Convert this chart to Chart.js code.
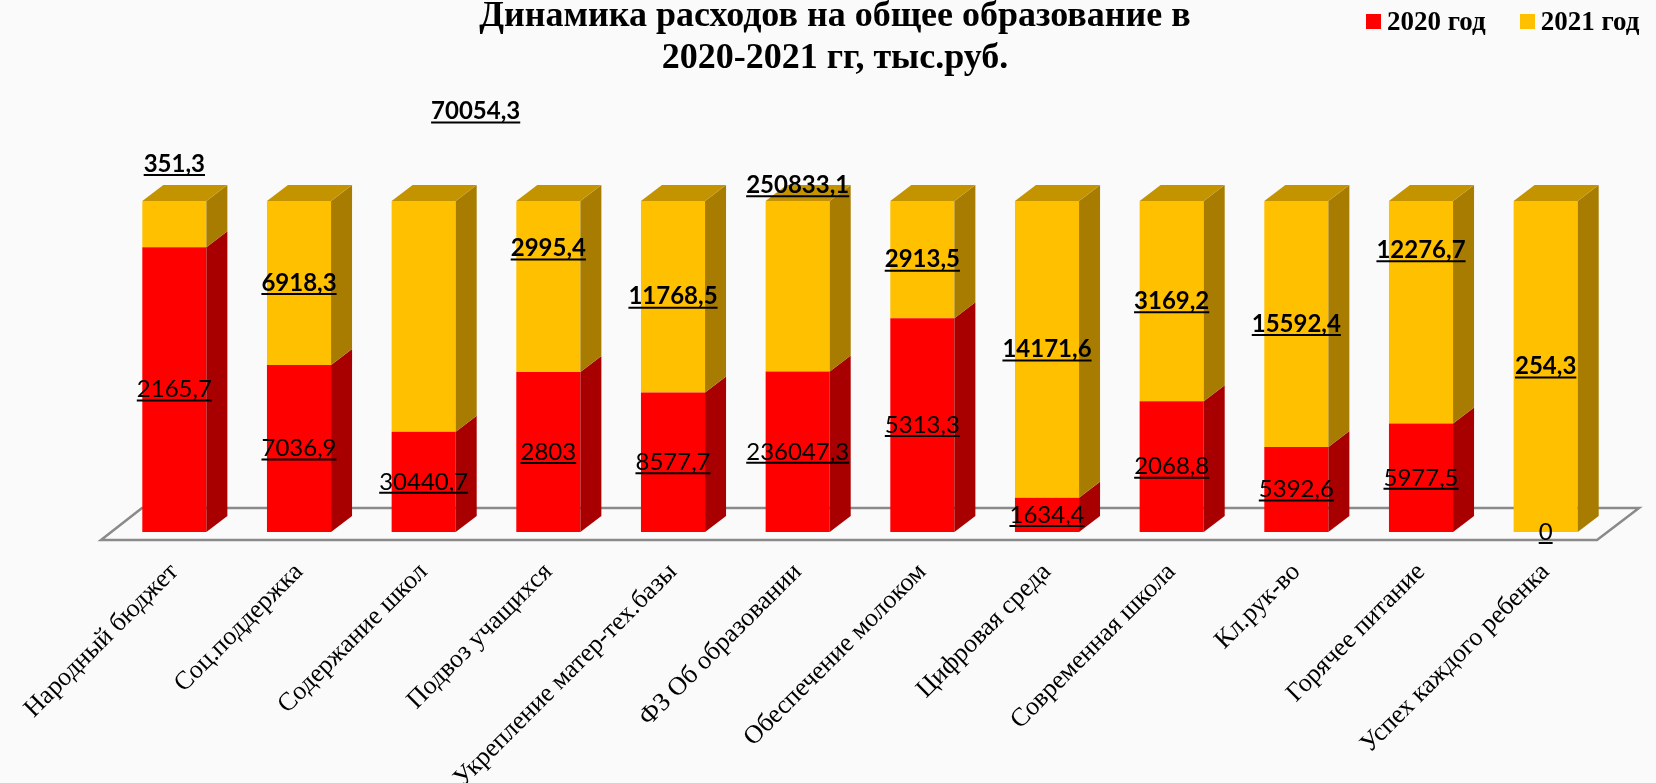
<!DOCTYPE html>
<html>
<head>
<meta charset="utf-8">
<script src="https://cdn.jsdelivr.net/npm/chart.js@4.4.1/dist/chart.umd.min.js"></script>
<style>
  body { margin: 0; background: #fafafa; }
  #wrap { position: relative; width: 1656px; height: 783px; }
  #legend { position: absolute; top: 5px; left: 1366px; font: bold 27px "Liberation Serif"; white-space: nowrap; color: #000; }
  #legend span.item { display: inline-flex; align-items: center; margin-right: 34px; }
  #legend i { display: inline-block; width: 15px; height: 15px; margin-right: 6px; }
</style>
</head>
<body>
<div id="wrap">
  <canvas id="chart" width="1656" height="783"></canvas>
  <div id="legend">
    <span class="item"><i style="background:#ff0000"></i>2020 год</span><span class="item"><i style="background:#ffc000"></i>2021 год</span>
  </div>
</div>
<script>
var categories = ['Народный бюджет', 'Соц.поддержка', 'Содержание школ', 'Подвоз учащихся',
    'Укрепление матер-тех.базы', 'ФЗ Об образовании', 'Обеспечение молоком', 'Цифровая среда',
    'Современная школа', 'Кл.рук-во', 'Горячее питание', 'Успех каждого ребенка'];
var values2020 = [2165.7, 7036.9, 30440.7, 2803, 8577.7, 236047.3, 5313.3, 1634.4, 2068.8, 5392.6, 5977.5, 0];
var values2021 = [351.3, 6918.3, 70054.3, 2995.4, 11768.5, 250833.1, 2913.5, 14171.6, 3169.2, 15592.4, 12276.7, 254.3];
var seriesNames = ['2020 год', '2021 год'];

// 100% stacked: share of each year in the category total
var share2020 = values2020.map(function (v, i) { return v / (v + values2021[i]) * 100; });
var share2021 = values2021.map(function (v, i) { return v / (v + values2020[i]) * 100; });

var frontColors = ['#ff0000', '#ffc000'];
var sideColors = ['#a80000', '#a87c00'];
var topColors = ['#d00000', '#c49400'];
var depthX = 21, depthY = 16;

// where Excel put some of the 2021 labels (shift from segment centre)
var label2021Shift = [[0, -60], [0, 0], [52, -205], [0, -38], [0, 0], [0, -101],
    [0, 0], [0, 0], [0, 0], [0, 0], [0, -62], [0, 0]];

function fmt(v) {
    return String(v).replace('.', ',');
}

var bars3d = {
    id: 'bars3d',
    beforeDatasetsDraw: function (chart) {
        var a = chart.chartArea, ctx = chart.ctx;
        ctx.save();
        ctx.strokeStyle = '#8a8a8a';
        ctx.lineWidth = 2.5;
        ctx.beginPath();
        ctx.moveTo(a.left - 11, a.bottom + 8);
        ctx.lineTo(a.right - 11, a.bottom + 8);
        ctx.lineTo(a.right + 31, a.bottom - 24);
        ctx.lineTo(a.left + 30, a.bottom - 24);
        ctx.closePath();
        ctx.stroke();
        ctx.restore();
    },
    afterDatasetsDraw: function (chart) {
        var ctx = chart.ctx;
        var n = chart.data.datasets.length;
        ctx.save();
        chart.data.labels.forEach(function (lab, i) {
            var topBar = null, topD = 0;
            for (var d = 0; d < n; d++) {
                var bar = chart.getDatasetMeta(d).data[i];
                var r = bar.x + bar.width / 2;
                if (bar.base - bar.y > 0.5) {
                    ctx.fillStyle = sideColors[d];
                    ctx.beginPath();
                    ctx.moveTo(r, bar.base);
                    ctx.lineTo(r + depthX, bar.base - depthY);
                    ctx.lineTo(r + depthX, bar.y - depthY);
                    ctx.lineTo(r, bar.y);
                    ctx.closePath();
                    ctx.fill();
                    topBar = bar; topD = d;
                }
            }
            if (topBar) {
                var l = topBar.x - topBar.width / 2, rr = topBar.x + topBar.width / 2;
                ctx.fillStyle = topColors[topD];
                ctx.beginPath();
                ctx.moveTo(l, topBar.y);
                ctx.lineTo(l + depthX, topBar.y - depthY);
                ctx.lineTo(rr + depthX, topBar.y - depthY);
                ctx.lineTo(rr, topBar.y);
                ctx.closePath();
                ctx.fill();
            }
        });
        ctx.restore();
    }
};

var valueLabels = {
    id: 'valueLabels',
    afterDatasetsDraw: function (chart) {
        var ctx = chart.ctx;
        var raw = [values2020, values2021];
        ctx.save();
        ctx.fillStyle = '#000';
        ctx.strokeStyle = '#000';
        ctx.textAlign = 'center';
        ctx.textBaseline = 'middle';
        for (var d = 0; d < 2; d++) {
            ctx.font = (d === 1 ? 'bold ' : '') + '24px Lato';
            chart.getDatasetMeta(d).data.forEach(function (bar, i) {
                var x = bar.x, y = (bar.y + bar.base) / 2;
                if (d === 1) { x += label2021Shift[i][0]; y += label2021Shift[i][1]; }
                var txt = fmt(raw[d][i]);
                ctx.fillText(txt, x, y);
                var w = ctx.measureText(txt).width;
                ctx.lineWidth = 2;
                ctx.beginPath();
                ctx.moveTo(x - w / 2, y + 11);
                ctx.lineTo(x + w / 2, y + 11);
                ctx.stroke();
            });
        }
        ctx.restore();
    }
};

new Chart(document.getElementById('chart'), {
    type: 'bar',
    data: {
        labels: categories,
        datasets: [
            { label: seriesNames[0], data: share2020, backgroundColor: frontColors[0] },
            { label: seriesNames[1], data: share2021, backgroundColor: frontColors[1] }
        ]
    },
    options: {
        responsive: false,
        animation: false,
        barPercentage: 0.514,
        categoryPercentage: 1,
        layout: { padding: { left: 62, right: 48, top: 0, bottom: 0 } },
        plugins: {
            legend: { display: false },
            tooltip: { enabled: false },
            title: {
                display: true,
                text: ['Динамика расходов на общее образование в', '2020-2021 гг, тыс.руб.'],
                color: '#000',
                font: { family: 'Liberation Serif', size: 36, weight: 'bold', lineHeight: 1.167 },
                padding: { top: -4, bottom: 121 }
            }
        },
        scales: {
            x: {
                stacked: true,
                grid: { display: false },
                border: { display: false },
                ticks: {
                    color: '#000',
                    minRotation: 45,
                    maxRotation: 45,
                    padding: 17,
                    font: { family: 'Liberation Serif', size: 26 }
                },
                afterFit: function (scale) {
                    scale.height = 251;
                    scale.paddingLeft = 0;
                    scale.paddingRight = 0;
                }
            },
            y: {
                stacked: true,
                min: 0,
                max: 100,
                grid: { display: false },
                border: { display: false },
                ticks: { display: false },
                afterFit: function (scale) {
                    scale.width = 50;
                }
            }
        }
    },
    plugins: [bars3d, valueLabels]
});
</script>
</body>
</html>
